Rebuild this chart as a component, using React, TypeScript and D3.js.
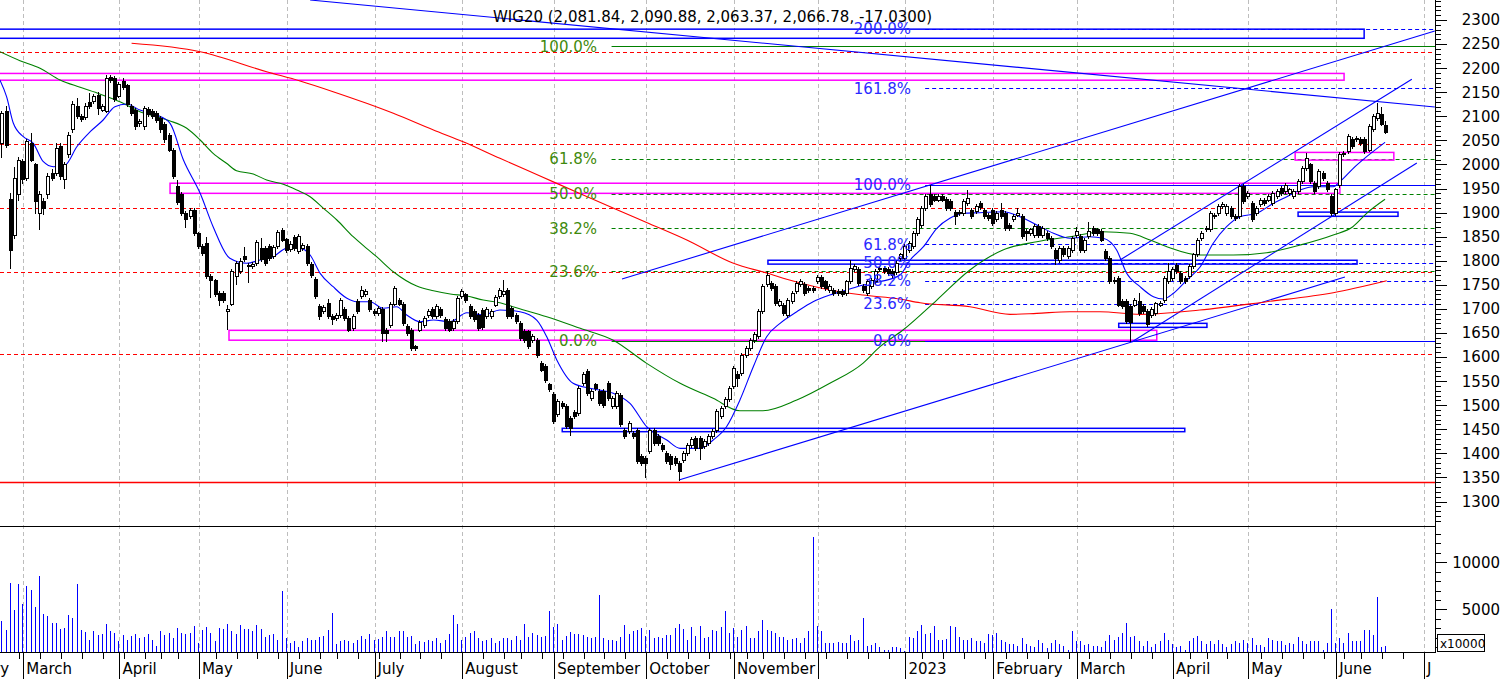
import React from "react";
import * as d3 from "d3";

// ---------------- DATA ----------------
// candle index 0 = 22 Feb 2022 (5 sessions before 1 March 2022)
const firstIndex = -5;
const opens = [
2044,2110,1928,1853,1937,2006,1971,2044,1999,1898,
1923,1937,1982,1982,2037,1968,2020,2072,2121,2099,
2098,2128,2130,2144,2113,2110,2181,2179,2142,2172,
2163,2121,2113,2085,2078,2114,2110,2106,2096,2082,
2061,2030,1954,1938,1898,1892,1905,1856,1829,1835,
1767,1759,1732,1732,1694,1710,1767,1777,1808,1788,
1788,1795,1826,1826,1829,1808,1829,1862,1844,1824,
1849,1819,1826,1829,1792,1761,1705,1694,1712,1684,
1680,1687,1699,1680,1660,1715,1725,1729,1718,1694,
1691,1699,1656,1666,1710,1718,1709,1663,1656,1621,
1656,1666,1687,1698,1684,1699,1678,1673,1660,1673,
1725,1729,1705,1694,1687,1697,1684,1684,1708,1725,
1730,1738,1701,1687,1670,1653,1653,1635,1635,1586,
1580,1542,1523,1480,1504,1497,1473,1484,1483,1545,
1571,1514,1542,1528,1528,1545,1497,1497,1521,1448,
1445,1442,1448,1393,1390,1403,1448,1435,1417,1400,
1393,1390,1379,1385,1400,1417,1431,1431,1414,1421,
1435,1448,1476,1497,1511,1538,1563,1566,1604,1618,
1635,1642,1694,1750,1753,1746,1708,1708,1687,1715,
1736,1750,1750,1743,1743,1756,1765,1756,1739,1739,
1736,1736,1732,1756,1781,1781,1746,1732,1746,1756,
1781,1784,1781,1777,1776,1805,1805,1822,1829,1857,
1874,1909,1937,1933,1926,1933,1928,1923,1900,1898,
1898,1919,1905,1902,1919,1905,1895,1905,1885,1905,
1898,1874,1885,1895,1892,1860,1857,1853,1871,1853,
1857,1846,1822,1801,1826,1808,1822,1853,1850,1822,
1850,1867,1864,1860,1819,1805,1757,1763,1715,1715,
1705,1708,1715,1705,1694,1687,1691,1708,1718,1757,
1763,1791,1774,1763,1767,1788,1812,1847,1864,1864,
1892,1898,1912,1898,1909,1892,1892,1954,1933,1919,
1898,1916,1926,1926,1919,1933,1950,1943,1940,1933,
1943,1964,1992,1999,1961,1954,1982,1961,1933,1898,
1957,2020,2027,2051,2051,2051,2051,2030,2072,2096,
2103,2081.84];
const highs = [
2112,2122,1940,1995,2015,2012,2052,2066,2004,1945,
1930,1982,1990,2044,2045,2005,2068,2131,2137,2104,
2127,2148,2146,2150,2126,2186,2186,2183,2172,2180,
2168,2126,2118,2095,2121,2119,2115,2112,2100,2088,
2066,2035,1968,1943,1903,1910,1910,1860,1834,1849,
1772,1763,1737,1738,1708,1783,1800,1805,1828,1796,
1798,1843,1847,1830,1834,1833,1863,1868,1848,1840,
1854,1855,1836,1834,1797,1766,1710,1708,1720,1689,
1692,1723,1704,1685,1689,1720,1748,1741,1723,1699,
1706,1704,1661,1715,1748,1723,1714,1668,1661,1626,
1676,1685,1699,1703,1710,1704,1683,1678,1678,1727,
1741,1734,1710,1699,1692,1702,1703,1700,1729,1744,
1760,1743,1706,1692,1675,1658,1657,1647,1640,1591,
1585,1547,1528,1512,1509,1502,1478,1489,1540,1568,
1576,1533,1547,1533,1533,1550,1519,1530,1526,1453,
1467,1447,1453,1398,1395,1453,1453,1440,1422,1405,
1398,1395,1384,1405,1422,1433,1436,1436,1429,1440,
1450,1492,1498,1516,1540,1582,1570,1609,1623,1640,
1651,1699,1751,1778,1758,1751,1720,1713,1723,1737,
1758,1762,1755,1748,1748,1770,1770,1761,1751,1744,
1741,1741,1761,1801,1793,1786,1751,1761,1765,1782,
1789,1789,1786,1782,1800,1817,1834,1841,1862,1890,
1914,1938,1957,1938,1938,1938,1933,1928,1905,1905,
1928,1947,1910,1917,1924,1910,1900,1910,1903,1919,
1903,1879,1897,1909,1897,1865,1869,1876,1876,1872,
1862,1851,1827,1831,1831,1831,1851,1871,1855,1848,
1881,1872,1869,1865,1824,1810,1767,1768,1720,1720,
1710,1723,1732,1710,1699,1703,1715,1717,1768,1795,
1786,1796,1779,1768,1793,1817,1848,1862,1872,1903,
1900,1917,1921,1917,1914,1897,1959,1959,1945,1924,
1914,1931,1931,1938,1945,1948,1955,1962,1952,1948,
1969,1997,2023,2004,1966,1990,1987,1966,1938,1952,
2025,2028,2063,2056,2059,2056,2056,2083,2104,2127,
2120,2090.88];
const lows = [
2013,2034,1782,1845,1925,1960,1965,2006,1898,1864,
1895,1928,1965,1976,1968,1950,2014,2066,2094,2088,
2092,2116,2126,2103,2108,2106,2170,2130,2138,2155,
2120,2100,2072,2078,2072,2098,2094,2087,2066,2045,
2025,1970,1915,1892,1867,1886,1852,1824,1810,1762,
1722,1724,1706,1712,1656,1705,1750,1772,1797,1754,
1783,1790,1797,1790,1800,1803,1824,1838,1817,1819,
1820,1814,1821,1790,1765,1720,1677,1689,1680,1667,
1675,1682,1675,1651,1655,1689,1720,1724,1693,1686,
1686,1632,1632,1661,1705,1705,1665,1644,1612,1613,
1651,1661,1682,1679,1679,1682,1655,1651,1655,1668,
1720,1713,1679,1672,1655,1657,1679,1679,1703,1720,
1725,1680,1679,1668,1634,1630,1617,1630,1599,1568,
1547,1527,1460,1475,1492,1450,1435,1471,1478,1540,
1520,1509,1530,1499,1495,1509,1492,1492,1454,1430,
1440,1430,1378,1374,1348,1398,1416,1416,1402,1378,
1365,1374,1343,1380,1395,1412,1405,1386,1409,1416,
1430,1443,1471,1492,1506,1533,1538,1561,1599,1613,
1630,1637,1689,1745,1738,1707,1703,1686,1682,1710,
1731,1745,1727,1734,1733,1751,1741,1738,1734,1727,
1727,1724,1727,1751,1776,1748,1734,1727,1741,1751,
1776,1772,1769,1765,1771,1800,1800,1817,1824,1852,
1869,1904,1911,1921,1921,1921,1904,1904,1874,1893,
1893,1914,1887,1897,1906,1887,1883,1873,1880,1887,
1862,1862,1880,1890,1845,1840,1852,1848,1848,1848,
1841,1824,1791,1796,1807,1803,1817,1848,1817,1817,
1845,1852,1852,1838,1800,1752,1752,1703,1700,1668,
1632,1703,1686,1689,1663,1682,1686,1703,1713,1752,
1758,1772,1752,1752,1762,1783,1807,1842,1859,1859,
1887,1893,1907,1893,1887,1883,1887,1918,1928,1880,
1893,1911,1914,1921,1914,1928,1935,1938,1935,1928,
1938,1959,1987,1959,1938,1949,1966,1942,1893,1893,
1952,2015,2022,2032,2046,2039,2022,2025,2067,2091,
2079,2063.37];
const closes = [
2106,2040,1822,1971,2009,1968,2047,2009,1923,1937,
1909,1975,1971,2033,1975,1999,2061,2125,2099,2094,
2121,2121,2141,2117,2121,2178,2175,2135,2167,2160,
2125,2106,2078,2089,2116,2103,2099,2092,2072,2051,
2030,1975,1921,1898,1886,1905,1857,1829,1815,1767,
1760,1729,1718,1718,1698,1777,1795,1799,1803,1791,
1793,1838,1802,1795,1805,1828,1858,1843,1822,1834,
1826,1850,1831,1795,1770,1725,1685,1703,1685,1677,
1687,1718,1680,1656,1684,1694,1739,1736,1698,1691,
1701,1649,1649,1710,1743,1710,1670,1649,1618,1618,
1671,1680,1694,1684,1705,1687,1660,1656,1673,1722,
1736,1718,1684,1677,1660,1662,1698,1694,1724,1739,
1736,1685,1684,1673,1639,1635,1622,1642,1604,1573,
1552,1532,1466,1507,1497,1455,1452,1476,1535,1563,
1525,1528,1535,1504,1500,1514,1514,1525,1459,1435,
1462,1435,1383,1379,1379,1448,1421,1421,1407,1383,
1376,1379,1362,1400,1417,1428,1410,1410,1424,1435,
1445,1487,1493,1511,1535,1577,1556,1604,1618,1635,
1646,1694,1746,1770,1743,1712,1715,1691,1718,1732,
1753,1757,1732,1739,1738,1765,1746,1743,1746,1732,
1732,1729,1756,1784,1788,1753,1739,1756,1760,1777,
1784,1777,1774,1770,1795,1812,1829,1836,1857,1885,
1909,1933,1916,1926,1933,1926,1909,1909,1892,1900,
1923,1930,1892,1912,1911,1892,1888,1878,1898,1892,
1867,1867,1892,1898,1850,1857,1864,1871,1853,1867,
1846,1829,1805,1826,1812,1826,1846,1860,1822,1843,
1860,1857,1857,1843,1805,1757,1760,1708,1705,1673,
1671,1718,1691,1694,1667,1698,1712,1712,1763,1777,
1781,1777,1757,1757,1788,1812,1843,1857,1867,1898,
1895,1912,1916,1912,1892,1888,1954,1923,1940,1885,
1909,1926,1919,1933,1940,1943,1940,1957,1947,1943,
1964,1992,2013,1964,1943,1985,1971,1947,1898,1947,
2020,2023,2058,2037,2054,2044,2027,2078,2099,2106,
2084,2066.78];
const lastChange = -17.03;
// volume in units of 10,000 shares
const volumes = [
3800,2810,7840,4940,7700,5570,7480,7060,5250,8550,
4510,4300,3550,3550,2920,3020,4400,4090,7700,2810,
2600,1750,2710,2280,2390,3450,2710,2490,1640,2280,
1750,2170,2390,1960,2070,2390,1750,1110,2710,2280,
2490,1960,3020,2490,2390,2490,3240,1430,2810,3130,
2490,1640,3020,2920,3450,2710,2390,3340,2920,2920,
2710,3340,2920,2070,2280,2390,1750,6950,1960,1430,
1640,1010,1640,1960,1750,1750,2070,2170,2810,4620,
1320,1640,1750,1640,1430,1750,2170,1860,2390,1750,
1860,2070,2710,2070,2070,2710,2710,2070,2170,1320,
1640,1540,1750,1640,1960,1430,1750,2390,4400,3450,
1750,2070,2490,2710,1960,
1640,1750,1960,1430,1640,1960,1960,1750,2170,1750,
3450,2070,2490,2280,2070,2170,4830,3130,3450,1750,
2170,2600,2390,2390,2280,2070,1960,2070,6530,1960,
1750,1750,1640,2070,3340,2390,2710,2810,3020,2170,
2810,1960,2070,1960,2280,2280,3020,3450,2920,1750,
3130,2170,3240,1960,2070,2810,2710,3130,4830,2490,
3020,2070,2810,3240,1960,1960,2710,3870,2810,2710,
2490,2070,2070,1750,1860,1960,1430,1960,2710,12690,
3240,2710,1430,1430,1430,1540,1430,1430,2280,1640,
1750,4090,1110,1220,1430,1010,690,690,1010,1010,
900,600,2070,1960,2710,3340,2390,2490,3240,1750,
1750,1860,3240,3130,
2070,1750,1750,1960,1640,1640,1430,2390,2280,2490,
1750,1540,1320,1320,1110,1960,1320,1110,1010,1750,
1430,900,1430,1750,1320,1110,690,2710,1640,1640,
1220,1320,1110,1110,1010,1640,2280,1750,2070,2490,
3550,2070,2170,1640,1110,1640,1010,1320,1640,2490,
1750,1320,1010,1110,690,1640,1960,2170,1640,1320,
1640,1320,1750,1320,1010,1320,1640,1430,1750,1430,
1960,1220,1220,1010,1960,1750,1640,1640,1220,1430,
1320,2070,1640,1320,1640,1640,1640,690,1430,5040,
1430,1960,1430,2490,1640,1640,1640,2810,2810,2280,
6320,1010,1110];

// moving averages: [session index from 1 Mar 2022, value]
const maLong: [number, number][] = [
[25.9,2251.6],[42.3,2234.2],[58.2,2192.6],[66.2,2173.3],[74.1,2151.1],[82.1,2127.0],[88.5,2106.2],
[98.1,2071.5],[105.2,2047.2],[114.0,2012.7],[123.6,1976.0],[133.1,1939.6],[142.7,1903.3],[149.9,1876.3],
[158.7,1843.0],[169.7,1795.3],[177.8,1774.5],[185.0,1755.9],[192.9,1739.2],[200.8,1728.8],[209.7,1720.5],
[214.5,1712.8],[226.4,1704.5],[236.0,1688.7],[242.4,1690.8],[250.3,1694.1],[257.5,1694.1],[267.1,1688.7],
[281.4,1697.7],[297.4,1714.9],[313.3,1733.6],[326.1,1758.5]];
const maMid: [number, number][] = [
[-5.6,2234.2],[-0.8,2215.5],[4.0,2199.7],[8.8,2175.4],[13.6,2160.2],[18.3,2146.3],[23.1,2130.3],[27.9,2109.5],
[31.9,2099.2],[35.1,2090.4],[39.1,2075.1],[42.3,2050.8],[45.4,2023.1],[48.6,2002.4],[51.0,1987.0],[55.0,1980.1],
[58.2,1967.7],[62.2,1958.7],[65.4,1946.9],[68.6,1933.0],[71.8,1908.9],[75.0,1884.6],[78.9,1849.9],[82.1,1825.8],
[84.5,1808.4],[88.5,1777.2],[94.1,1747.5],[98.1,1737.8],[102.1,1730.9],[106.1,1726.8],[110.0,1718.4],[114.0,1712.8],
[117.1,1704.5],[125.2,1683.8],[133.2,1659.7],[141.0,1635.4],[149.1,1586.9],[157.1,1545.4],[165.0,1514.3],[171.4,1488.5],
[176.9,1488.5],[185.0,1510.7],[192.9,1545.4],[200.8,1587.0],[204.9,1621.5],[210.4,1656.1],[218.5,1718.4],[226.4,1780.8],
[234.3,1822.3],[242.4,1839.5],[250.3,1849.9],[258.2,1860.3],[264.7,1857.0],[269.5,1843.1],[273.5,1829.2],[281.5,1811.9],
[289.4,1811.9],[297.4,1816.7],[305.4,1832.7],[313.3,1853.5],[318.0,1870.7],[321.3,1898.5],[325.7,1927.6]];
const maShort: [number, number][] = [
[-5.6,2175.4],[-4.0,2140.7],[-2.4,2086.1],[0,2057.6],[2.4,2043.9],[4.8,2005.7],[7.2,1995.3],[10.0,1998.8],
[12.8,2036.8],[16.0,2068.0],[19.1,2092.3],[21.9,2119.9],[24.7,2125.5],[27.9,2113.1],[31.9,2102.7],[35.1,2085.4],
[38.3,2009.2],[42.3,1940.1],[45.4,1870.7],[49.4,1805.0],[53.4,1794.7],[56.6,1801.5],[59.8,1808.4],[63.0,1825.8],
[66.2,1825.8],[68.6,1811.9],[71.0,1773.9],[74.1,1746.1],[77.4,1722.0],[79.7,1714.9],[82.9,1714.9],[86.1,1701.2],
[89.3,1704.5],[91.7,1687.3],[94.9,1673.4],[98.1,1676.9],[102.1,1673.4],[106.1,1692.1],[110.0,1687.3],[114.0,1697.7],
[118.8,1694.1],[122.8,1676.9],[125.2,1642.2],[127.6,1593.8],[131.5,1545.4],[135.5,1535.1],[141.1,1524.7],[145.1,1503.9],
[149.1,1455.3],[153.9,1427.7],[157.1,1410.4],[161.9,1410.4],[165.0,1427.7],[168.2,1455.3],[171.4,1510.7],[174.6,1579.9],
[177.8,1642.2],[181.0,1670.0],[185.0,1694.1],[188.9,1714.9],[192.9,1728.8],[196.9,1739.2],[200.9,1749.6],[204.9,1756.5],
[209.7,1770.4],[212.1,1801.5],[215.3,1829.2],[218.5,1867.3],[221.6,1888.1],[224.8,1898.5],[228.8,1899.8],[234.4,1901.8],
[238.4,1891.5],[242.4,1874.2],[246.4,1857.0],[250.3,1846.6],[255.1,1849.9],[258.3,1846.6],[261.5,1822.3],[263.9,1773.9],
[267.1,1746.1],[270.3,1725.3],[272.7,1720.5],[275.1,1732.4],[278.3,1760.0],[281.5,1787.6],[284.6,1836.2],[287.8,1870.7],
[291.0,1891.5],[295.0,1898.5],[299.0,1919.3],[302.2,1933.0],[305.4,1946.9],[308.5,1953.8],[313.3,1953.8],[314.9,1964.2],
[318.1,1992.0],[321.3,2016.1],[325.7,2046.0]];

// horizontal levels, fibonacci sets, boxes and trend lines
const redDashedLevels = [2234, 2042, 1909, 1776, 1607];
const redSolidLevels = [1340];
const greenFib = { low: 1634, high: 2245, start: 140.7 };
const greenRatios = [1, 0.618, 0.5, 0.382, 0.236, 0];
const greenLabels = ["100.0%", "61.8%", "50.0%", "38.2%", "23.6%", "0.0%"];
const blueFib = { low: 1634, high: 1958, start: 215.7 };
const blueRatios = [2, 1.618, 1, 0.618, 0.5, 0.382, 0.236, 0];
const blueLabels = ["200.0%", "161.8%", "100.0%", "61.8%", "50.0%", "38.2%", "23.6%", "0.0%"];
// [from session, to session, top value, bottom value]
const magentaBoxes = [[-7, 315.9, 2189, 2175], [35.1, 314.9, 1961, 1940], [304.2, 327.8, 2025, 2009], [49.2, 271.1, 1655.5, 1635]];
const blueBoxes = [[-7, 320.7, 2281, 2262], [178.1, 319.0, 1801, 1793], [304.9, 328.8, 1901, 1892.3], [262.0, 283.1, 1670, 1661.7], [128.9, 277.8, 1452, 1445]];
// [session1, value1, session2, value2]
const trendLines = [[68.6, 2341.5, 337.6, 2119.3], [143.2, 1762.1, 337.6, 2277.2], [156.8, 1344.6, 316.1, 1766.2], [265.2, 1631.8, 333.3, 2002.9], [262.3, 1801.5, 332.1, 2176.8]];

const priceTickLabels = [2300, 2250, 2200, 2150, 2100, 2050, 2000, 1950, 1900, 1850, 1800, 1750, 1700, 1650, 1600, 1550, 1500, 1450, 1400, 1350, 1300];
const volumeTickLabels = [5000, 10000];
const monthLabels = ["February", "March", "April", "May", "June", "July", "August", "September", "October", "November", "", "2023", "February", "March", "April", "May", "June", "July"];
const holidays = ["2022-04-15", "2022-04-18", "2022-05-03", "2022-06-16", "2022-08-15", "2022-11-01", "2022-11-11", "2022-12-26", "2023-01-06", "2023-04-07", "2023-04-10", "2023-05-01", "2023-05-03", "2023-06-08"];

// ---------------- LAYOUT ----------------
const W = 1506, H = 679;
const PR = 1435;      // right edge of plot
const PB = 526;       // bottom of price panel
const AB = 652;       // x axis line
const FONT = "DejaVu Sans, Verdana, sans-serif";

const xScale = d3.scaleLinear().domain([0, 335]).range([23.3, 23.3 + 335 * 4.181]);
const yScale = d3.scaleLinear().domain([1300, 2300]).range([501.5, 20]);
const vScale = d3.scaleLinear().domain([0, 10000]).range([656.3, 562.3]);

const iso = d3.timeFormat("%Y-%m-%d");
const hol = new Set(holidays);
const allDays = d3.timeDay.range(new Date(2022, 1, 1), new Date(2023, 6, 10)).filter((t) => {
  const w = t.getDay();
  return w !== 0 && w !== 6 && !hol.has(iso(t));
});
const baseIdx = allDays.findIndex((t) => iso(t) === "2022-03-01");
const sessions = allDays.map((t, i) => ({ t, d: i - baseIdx }));
const monthStarts = sessions.filter((s, i) => i === 0 || s.t.getMonth() !== sessions[i - 1].t.getMonth());
const weekStarts = sessions.filter((s, i) => i === 0 || d3.timeMonday.floor(s.t).getTime() !== d3.timeMonday.floor(sessions[i - 1].t).getTime());

const crisp = (v: number) => Math.round(v) + 0.5;
const f2 = d3.format(",.2f");

export default function App() {
  const line = d3.line<[number, number]>().x((p) => xScale(p[0])).y((p) => yScale(p[1])).curve(d3.curveMonotoneX);
  const n = closes.length;
  const last = n - 1;
  const title = `WIG20 (${f2(opens[last])}, ${f2(highs[last])}, ${f2(lows[last])}, ${f2(closes[last])}, ${lastChange.toFixed(4)})`;

  const fibLines = (fib: { low: number; high: number; start: number }, ratios: number[], color: string) =>
    ratios.map((r, i) => {
      const y = crisp(yScale(fib.low + r * (fib.high - fib.low)));
      const solid = r === 0 || r === 1;
      return (
        <line key={color + i} x1={xScale(fib.start)} x2={PR} y1={y} y2={y} stroke={color} strokeWidth={1}
          strokeDasharray={solid ? undefined : "4,3"} />
      );
    });

  return (
    <div style={{ position: "absolute", left: 0, top: 0, width: W, height: H, background: "#fff" }}>
      <svg width={W} height={H} style={{ display: "block" }} fontFamily={FONT}>
        <defs>
          <clipPath id="plotClip"><rect x={0} y={0} width={PR} height={AB} /></clipPath>
          <clipPath id="priceClip"><rect x={0} y={0} width={PR} height={PB} /></clipPath>
          <clipPath id="labelClip"><rect x={0} y={AB} width={1432} height={H - AB} /></clipPath>
        </defs>
        <rect x={0} y={0} width={W} height={H} fill="#fff" />

        {/* vertical month grid */}
        <g clipPath="url(#plotClip)">
          {monthStarts.map((m, i) => {
            const x = crisp(xScale(m.d));
            return <line key={"g" + i} x1={x} x2={x} y1={0} y2={AB} stroke="#bdbdbd" strokeDasharray="4,3" />;
          })}
        </g>

        <g clipPath="url(#priceClip)">
          {/* red levels */}
          {redDashedLevels.map((p, i) => {
            const y = crisp(yScale(p));
            return <line key={"rd" + i} x1={0} x2={PR} y1={y} y2={y} stroke="#ff0000" strokeDasharray="4,3" />;
          })}
          {redSolidLevels.map((p, i) => {
            const y = crisp(yScale(p));
            return <line key={"rs" + i} x1={0} x2={PR} y1={y} y2={y} stroke="#ff0000" strokeWidth={1.3} />;
          })}
          {/* fibonacci */}
          {fibLines(greenFib, greenRatios, "#008000")}
          {fibLines(blueFib, blueRatios, "#0000ff")}

          {/* boxes */}
          {magentaBoxes.map((b, i) => (
            <rect key={"mb" + i} x={xScale(b[0])} y={yScale(b[2])} width={xScale(b[1]) - xScale(b[0])}
              height={yScale(b[3]) - yScale(b[2])} fill="none" stroke="#ff00ff" strokeWidth={1.5} />
          ))}
          {blueBoxes.map((b, i) => (
            <rect key={"bb" + i} x={xScale(b[0])} y={yScale(b[2])} width={xScale(b[1]) - xScale(b[0])}
              height={yScale(b[3]) - yScale(b[2])} fill="none" stroke="#0000ff" strokeWidth={1.5} />
          ))}

          {/* trend lines */}
          {trendLines.map((t, i) => (
            <line key={"tl" + i} x1={xScale(t[0])} y1={yScale(t[1])} x2={xScale(t[2])} y2={yScale(t[3])}
              stroke="#0000ff" strokeWidth={1.1} />
          ))}

          {/* moving averages */}
          <path d={line(maLong) || ""} fill="none" stroke="#ff0000" strokeWidth={1.1} />
          <path d={line(maMid) || ""} fill="none" stroke="#008000" strokeWidth={1.1} />
          <path d={line(maShort) || ""} fill="none" stroke="#0000ff" strokeWidth={1.1} />

          {/* candles */}
          <g shapeRendering="crispEdges">
            {closes.map((c, k) => {
              const d = k + firstIndex;
              const cx = Math.round(xScale(d));
              const o = opens[k];
              const up = c >= o;
              const yT = yScale(Math.max(o, c));
              const yB = yScale(Math.min(o, c));
              return (
                <g key={"c" + k}>
                  <line x1={cx - 0.5} x2={cx - 0.5} y1={yScale(highs[k])} y2={yScale(lows[k])} stroke="#000" />
                  <rect x={cx - 1.5} y={yT} width={3} height={Math.max(1, yB - yT)} fill={up ? "#fff" : "#000"} stroke="#000" />
                </g>
              );
            })}
          </g>
        </g>

        {/* fib labels */}
        {greenRatios.map((r, i) => (
          <text key={"gl" + i} x={597} y={yScale(greenFib.low + r * (greenFib.high - greenFib.low))} dy="0.36em"
            textAnchor="end" fontSize={15} fill="#3f8a0c">{greenLabels[i]}</text>
        ))}
        {blueRatios.map((r, i) => (
          <text key={"bl" + i} x={911} y={yScale(blueFib.low + r * (blueFib.high - blueFib.low))} dy="0.36em"
            textAnchor="end" fontSize={15} fill="#2a2aff">{blueLabels[i]}</text>
        ))}

        {/* title */}
        <text x={493} y={21.5} fontSize={15} fill="#000">{title}</text>

        {/* volume bars */}
        <g clipPath="url(#plotClip)" shapeRendering="crispEdges">
          {volumes.map((v, k) => {
            const x = Math.round(xScale(k + firstIndex)) - 0.5;
            const yTop = Math.min(AB - 1, vScale(v));
            return <line key={"v" + k} x1={x} x2={x} y1={AB} y2={yTop} stroke="#0000ff" strokeWidth={1} />;
          })}
        </g>

        {/* frame lines */}
        <g shapeRendering="crispEdges">
          <line x1={0} x2={PR} y1={PB + 0.5} y2={PB + 0.5} stroke="#000" />
          <line x1={0} x2={PR} y1={AB + 0.5} y2={AB + 0.5} stroke="#000" />
          <line x1={PR + 0.5} x2={PR + 0.5} y1={0} y2={AB + 1} stroke="#000" />
        </g>

        {/* price axis */}
        <g shapeRendering="crispEdges">
          {d3.range(1260, 2341, 10).map((p) => {
            const y = crisp(yScale(p));
            const major = p % 50 === 0;
            return <line key={"pt" + p} x1={PR} x2={PR + (major ? 12 : 6)} y1={y} y2={y} stroke="#000" />;
          })}
          {d3.range(1000, 13001, 1000).map((v) => {
            const y = crisp(vScale(v));
            const major = v % 5000 === 0;
            return <line key={"vt" + v} x1={PR} x2={PR + (major ? 12 : 6)} y1={y} y2={y} stroke="#000" />;
          })}
        </g>
        {priceTickLabels.map((p) => (
          <text key={"pl" + p} x={1500} y={yScale(p)} dy="0.36em" textAnchor="end" fontSize={15} fill="#000">{p}</text>
        ))}
        {volumeTickLabels.map((v) => (
          <text key={"vl" + v} x={1500} y={vScale(v)} dy="0.36em" textAnchor="end" fontSize={15} fill="#000">{v}</text>
        ))}
        <rect x={1437.5} y={634.5} width={47} height={17} fill="#fff" stroke="#000" shapeRendering="crispEdges" />
        <text x={1440} y={647.5} fontSize={12} fill="#000">x10000</text>

        {/* time axis */}
        <g clipPath="url(#labelClip)">
          <g shapeRendering="crispEdges">
            {weekStarts.map((s, i) => {
              const x = crisp(xScale(s.d));
              return <line key={"wt" + i} x1={x} x2={x} y1={AB} y2={AB + 7} stroke="#000" />;
            })}
            {monthStarts.map((m, i) => {
              const x = crisp(xScale(m.d));
              return <line key={"mt" + i} x1={x} x2={x} y1={AB} y2={H} stroke="#000" />;
            })}
          </g>
          {monthStarts.map((m, i) => (
            <text key={"ml" + i} x={xScale(m.d) + 3} y={674} fontSize={15} fill="#000">{monthLabels[i] || ""}</text>
          ))}
        </g>
      </svg>
    </div>
  );
}
